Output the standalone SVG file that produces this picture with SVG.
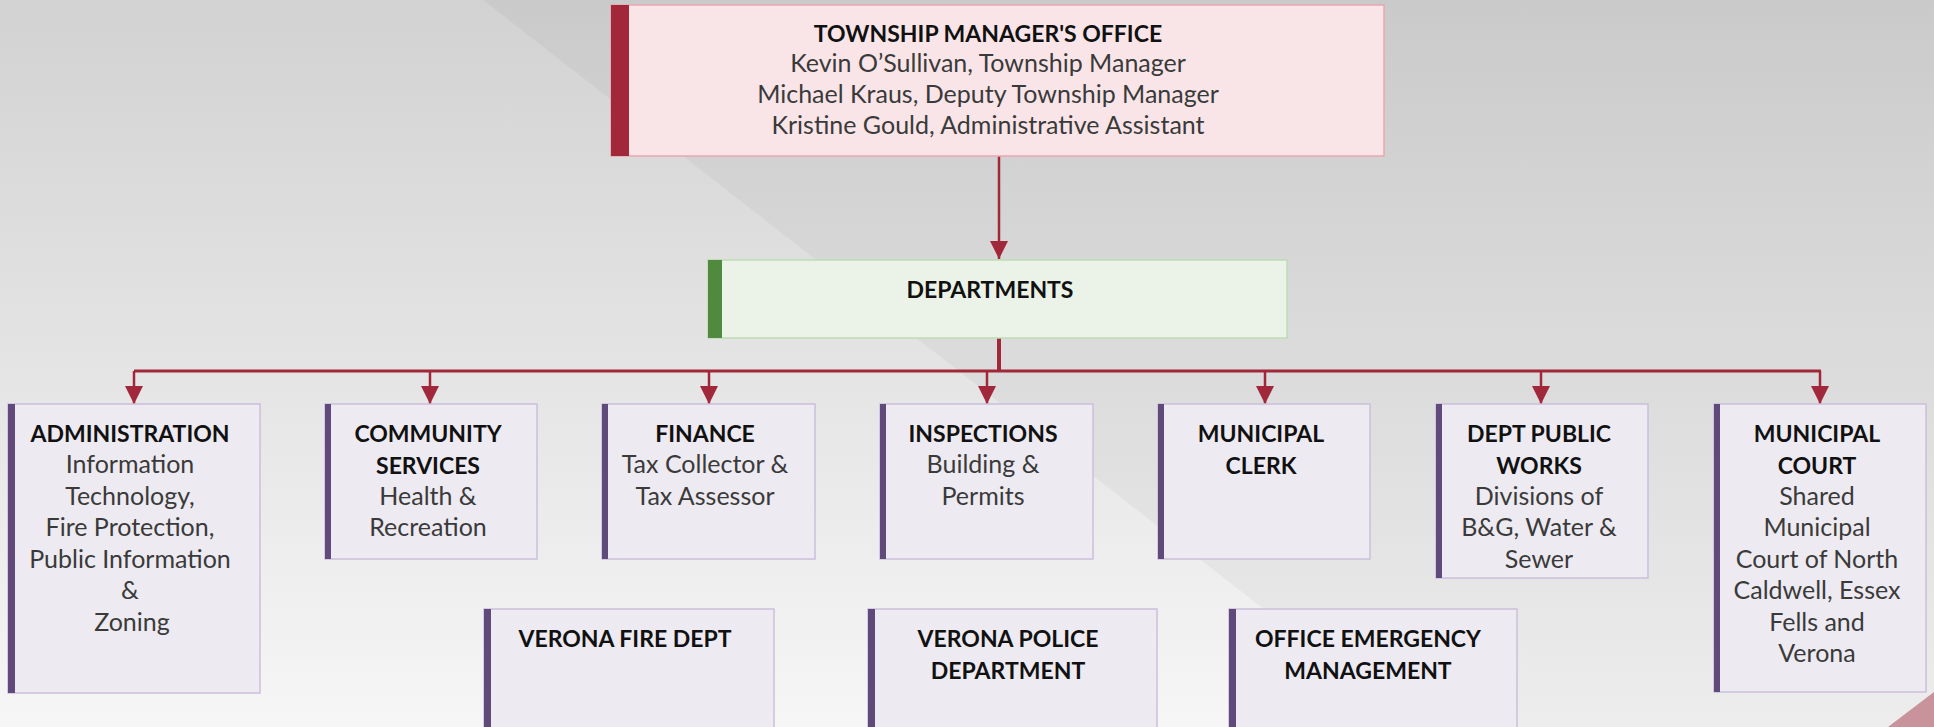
<svg xmlns="http://www.w3.org/2000/svg" width="1934" height="727" viewBox="0 0 1934 727">
<defs>
<linearGradient id="bg" x1="0" y1="0" x2="0" y2="1">
<stop offset="0" stop-color="#d2d2d2"/>
<stop offset="1" stop-color="#f6f6f6"/>
</linearGradient>
<marker id="arr" markerUnits="userSpaceOnUse" markerWidth="18" markerHeight="18" viewBox="0 0 18 18" refX="18" refY="9" orient="auto">
<path d="M0,0 L18,9 L0,18 Z" fill="#a0283a"/>
</marker>
<style>
.b{font-family:Lato,"Liberation Sans",sans-serif;font-weight:bold;font-size:23px;fill:#111;text-anchor:middle}
.r{font-family:Lato,"Liberation Sans",sans-serif;font-size:25px;fill:#3a3a3a;text-anchor:middle}
.pb{fill:#edeaf1;stroke:#cbbfdc;stroke-width:1.5}
.pbar{fill:#5f4a7b}
.ln{stroke:#a0283a;fill:none}
</style>
</defs>
<rect width="1934" height="727" fill="url(#bg)"/>
<polygon points="483,0 1934,0 1934,727 1415,727" fill="#000" opacity="0.035"/>
<polygon points="1888,727 1934,692 1934,727" fill="#c8939a"/>

<g id="connectors">
<line class="ln" x1="999" y1="156" x2="999" y2="259" stroke-width="2.5" marker-end="url(#arr)"/>
<line class="ln" x1="999" y1="338" x2="999" y2="372" stroke-width="4"/>
<line class="ln" x1="134" y1="371" x2="1821" y2="371" stroke-width="3"/>
<line class="ln" x1="134" y1="371" x2="134" y2="404" stroke-width="2.5" marker-end="url(#arr)"/>
<line class="ln" x1="430" y1="371" x2="430" y2="404" stroke-width="2.5" marker-end="url(#arr)"/>
<line class="ln" x1="709" y1="371" x2="709" y2="404" stroke-width="2.5" marker-end="url(#arr)"/>
<line class="ln" x1="987" y1="371" x2="987" y2="404" stroke-width="2.5" marker-end="url(#arr)"/>
<line class="ln" x1="1265" y1="371" x2="1265" y2="404" stroke-width="2.5" marker-end="url(#arr)"/>
<line class="ln" x1="1541" y1="371" x2="1541" y2="404" stroke-width="2.5" marker-end="url(#arr)"/>
<line class="ln" x1="1820" y1="371" x2="1820" y2="404" stroke-width="2.5" marker-end="url(#arr)"/>
</g>

<g id="township-manager">
<rect x="611" y="5" width="773" height="151" fill="#f9e5e8" stroke="#eaa7b0" stroke-width="1.5"/>
<rect x="611" y="5" width="18" height="151" fill="#a0283a"/>
<text class="b" x="988" y="42">TOWNSHIP MANAGER'S OFFICE</text>
<text class="r" x="988" y="72">Kevin O’Sullivan, Township Manager</text>
<text class="r" x="988" y="103">Michael Kraus, Deputy Township Manager</text>
<text class="r" x="988" y="134">Kristine Gould, Administrative Assistant</text>
</g>

<g id="departments">
<rect x="708" y="260" width="579" height="78" fill="#ebf3e8" stroke="#bfdcb4" stroke-width="1.5"/>
<rect x="708" y="260" width="14" height="78" fill="#4f8a3f"/>
<text class="b" x="990" y="298">DEPARTMENTS</text>
</g>

<g id="administration">
<rect class="pb" x="8" y="404" width="252" height="289"/>
<rect class="pbar" x="8" y="404" width="7" height="289"/>
<text class="b" x="130" y="442">ADMINISTRATION</text>
<text class="r" x="130" y="473">Information</text>
<text class="r" x="130" y="505">Technology,</text>
<text class="r" x="130" y="536">Fire Protection,</text>
<text class="r" x="130" y="568">Public Information</text>
<text class="r" x="130" y="599">&amp;</text>
<text class="r" x="132" y="631">Zoning</text>
</g>

<g id="community-services">
<rect class="pb" x="325" y="404" width="212" height="155"/>
<rect class="pbar" x="325" y="404" width="6" height="155"/>
<text class="b" x="428" y="442">COMMUNITY</text>
<text class="b" x="428" y="474">SERVICES</text>
<text class="r" x="428" y="505">Health &amp;</text>
<text class="r" x="428" y="536">Recreation</text>
</g>

<g id="finance">
<rect class="pb" x="602" y="404" width="213" height="155"/>
<rect class="pbar" x="602" y="404" width="6" height="155"/>
<text class="b" x="705" y="442">FINANCE</text>
<text class="r" x="705" y="473">Tax Collector &amp;</text>
<text class="r" x="705" y="505">Tax Assessor</text>
</g>

<g id="inspections">
<rect class="pb" x="880" y="404" width="213" height="155"/>
<rect class="pbar" x="880" y="404" width="6" height="155"/>
<text class="b" x="983" y="442">INSPECTIONS</text>
<text class="r" x="983" y="473">Building &amp;</text>
<text class="r" x="983" y="505">Permits</text>
</g>

<g id="municipal-clerk">
<rect class="pb" x="1158" y="404" width="212" height="155"/>
<rect class="pbar" x="1158" y="404" width="6" height="155"/>
<text class="b" x="1261" y="442">MUNICIPAL</text>
<text class="b" x="1261" y="474">CLERK</text>
</g>

<g id="public-works">
<rect class="pb" x="1436" y="404" width="212" height="174"/>
<rect class="pbar" x="1436" y="404" width="6" height="174"/>
<text class="b" x="1539" y="442">DEPT PUBLIC</text>
<text class="b" x="1539" y="474">WORKS</text>
<text class="r" x="1539" y="505">Divisions of</text>
<text class="r" x="1539" y="536">B&amp;G, Water &amp;</text>
<text class="r" x="1539" y="568">Sewer</text>
</g>

<g id="municipal-court">
<rect class="pb" x="1714" y="404" width="212" height="288"/>
<rect class="pbar" x="1714" y="404" width="6" height="288"/>
<text class="b" x="1817" y="442">MUNICIPAL</text>
<text class="b" x="1817" y="474">COURT</text>
<text class="r" x="1817" y="505">Shared</text>
<text class="r" x="1817" y="536">Municipal</text>
<text class="r" x="1817" y="568">Court of North</text>
<text class="r" x="1817" y="599">Caldwell, Essex</text>
<text class="r" x="1817" y="631">Fells and</text>
<text class="r" x="1817" y="662">Verona</text>
</g>

<g id="verona-fire">
<rect class="pb" x="484" y="609" width="290" height="140"/>
<rect class="pbar" x="484" y="609" width="7" height="140"/>
<text class="b" x="625" y="647">VERONA FIRE DEPT</text>
</g>

<g id="verona-police">
<rect class="pb" x="868" y="609" width="289" height="140"/>
<rect class="pbar" x="868" y="609" width="7" height="140"/>
<text class="b" x="1008" y="647">VERONA POLICE</text>
<text class="b" x="1008" y="679">DEPARTMENT</text>
</g>

<g id="emergency-management">
<rect class="pb" x="1229" y="609" width="288" height="140"/>
<rect class="pbar" x="1229" y="609" width="7" height="140"/>
<text class="b" x="1368" y="647">OFFICE EMERGENCY</text>
<text class="b" x="1368" y="679">MANAGEMENT</text>
</g>
</svg>
